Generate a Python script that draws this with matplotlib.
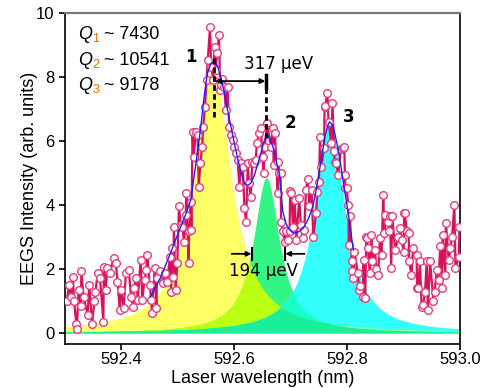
import numpy as np
import matplotlib
matplotlib.use("Agg")
import matplotlib.pyplot as plt

# ---------------- data ----------------
wavelength = [
    592.303, 592.307, 592.311, 592.314, 592.316, 592.320, 592.321, 592.324, 592.328, 592.329,
    592.333, 592.340, 592.343, 592.348, 592.352, 592.354, 592.358, 592.362, 592.368, 592.369,
    592.372, 592.375, 592.380, 592.386, 592.390, 592.393, 592.397, 592.399, 592.404, 592.408,
    592.413, 592.417, 592.421, 592.422, 592.426, 592.429, 592.434, 592.437, 592.441, 592.444,
    592.446, 592.450, 592.453, 592.454, 592.459, 592.462, 592.463, 592.468, 592.473, 592.478,
    592.481, 592.486, 592.488, 592.490, 592.492, 592.493, 592.496, 592.499, 592.502, 592.505,
    592.508, 592.511, 592.514, 592.515, 592.519, 592.520, 592.523, 592.524, 592.526, 592.528,
    592.532, 592.535, 592.537, 592.540, 592.543, 592.545, 592.548, 592.551, 592.553, 592.557,
    592.559, 592.563, 592.565, 592.567, 592.570, 592.573, 592.575, 592.577, 592.579, 592.582,
    592.585, 592.588, 592.591, 592.594, 592.597, 592.600, 592.603, 592.606, 592.609, 592.612,
    592.615, 592.618, 592.621, 592.624, 592.626, 592.629, 592.632, 592.635, 592.638, 592.640,
    592.644, 592.647, 592.650, 592.652, 592.654, 592.658, 592.665, 592.668, 592.670, 592.672,
    592.677, 592.678, 592.680, 592.682, 592.683, 592.686, 592.689, 592.692, 592.695, 592.698,
    592.699, 592.701, 592.704, 592.707, 592.710, 592.715, 592.718, 592.721, 592.724, 592.727,
    592.730, 592.733, 592.737, 592.740, 592.745, 592.747, 592.750, 592.752, 592.754, 592.759,
    592.760, 592.761, 592.765, 592.767, 592.772, 592.774, 592.777, 592.778, 592.781, 592.784,
    592.789, 592.793, 592.795, 592.796, 592.797, 592.799, 592.802, 592.803, 592.805, 592.808,
    592.809, 592.811, 592.813, 592.819, 592.821, 592.822, 592.828, 592.829, 592.832, 592.834,
    592.835, 592.837, 592.840, 592.843, 592.844, 592.849, 592.852, 592.855, 592.858, 592.861,
    592.864, 592.866, 592.867, 592.873, 592.874, 592.876, 592.878, 592.880, 592.885, 592.891,
    592.894, 592.897, 592.900, 592.901, 592.902, 592.906, 592.909, 592.910, 592.914, 592.917,
    592.923, 592.924, 592.926, 592.929, 592.932, 592.935, 592.938, 592.941, 592.943, 592.947,
    592.953, 592.955, 592.959, 592.962, 592.965, 592.968, 592.969, 592.974, 592.975, 592.980,
    592.983, 592.986, 592.990, 592.992, 592.998, 592.999,
]
intensity = [
    0.98, 1.48, 1.13, 1.75, 1.00, 0.28, 0.12, 1.34, 0.84, 1.92,
    1.12, 0.56, 1.48, 0.28, 0.98, 1.29, 1.87, 1.72, 0.35, 2.06,
    1.34, 2.03, 1.87, 2.34, 2.19, 1.60, 0.72, 1.34, 0.78, 1.87,
    1.97, 1.13, 0.82, 1.40, 1.72, 1.03, 2.28, 1.03, 1.66, 1.97,
    2.44, 1.50, 1.03, 0.63, 2.03, 0.78, 1.72, 1.92, 1.56, 1.87,
    1.60, 2.38, 1.29, 2.65, 1.76, 3.31, 1.34, 2.19, 3.95, 3.38,
    3.32, 2.85, 3.69, 4.37, 2.19, 3.17, 4.10, 3.22, 6.29, 5.51,
    6.29, 6.19, 4.57, 5.30, 5.82, 6.45, 7.07, 7.90, 8.53, 9.57,
    8.32, 7.90, 8.95, 8.22, 8.76, 9.31, 7.60, 7.76, 7.95, 7.70,
    6.97, 7.70, 6.45, 6.19, 6.03, 5.82, 5.61, 5.40, 4.57, 5.30,
    5.20, 3.90, 3.48, 5.30, 4.68, 4.26, 5.35, 5.30, 5.40, 5.93,
    6.24, 6.40, 5.51, 4.99, 5.82, 6.55, 5.82, 6.40, 5.25, 6.26,
    4.37, 5.35, 4.99, 5.01, 3.48, 3.17, 2.85, 3.17, 2.91, 3.17,
    4.42, 4.37, 3.32, 4.16, 2.91, 4.20, 3.38, 2.96, 3.22, 4.47,
    4.81, 3.95, 4.47, 3.00, 3.74, 4.39, 4.73, 6.11, 5.18, 5.77,
    7.07, 7.09, 7.49, 6.60, 5.93, 7.20, 5.67, 5.35, 5.30, 4.94,
    5.75, 5.77, 5.82, 4.94, 4.52, 4.52, 4.00, 2.75, 3.64, 2.23,
    1.92, 1.71, 2.54, 1.86, 1.34, 1.45, 1.13, 2.28, 1.08, 3.01,
    2.96, 2.65, 1.86, 3.06, 2.23, 2.60, 2.00, 1.81, 2.96, 2.44,
    4.31, 3.11, 3.69, 3.48, 3.17, 3.64, 2.02, 3.64, 2.59, 3.01,
    3.27, 2.91, 2.54, 3.76, 3.74, 3.17, 3.11, 2.23, 1.81, 2.65,
    2.44, 1.40, 1.40, 2.23, 0.82, 0.88, 1.29, 2.23, 0.72, 2.23,
    0.98, 1.29, 1.97, 1.66, 2.70, 1.40, 3.06, 1.81, 3.43, 2.28,
    2.65, 3.01, 4.00, 2.02, 2.38, 3.32,
]

# smoothed guide line (blue)
guide_wl = [592.451, 592.470, 592.487, 592.498, 592.508, 592.516, 592.523, 592.532, 592.540,
            592.546, 592.552, 592.558, 592.564, 592.570, 592.576, 592.582, 592.588, 592.594,
            592.600, 592.606, 592.612, 592.618, 592.624, 592.630, 592.636, 592.641, 592.647,
            592.652, 592.658, 592.664, 592.671, 592.676, 592.680, 592.686, 592.692, 592.698,
            592.704, 592.710, 592.716, 592.722, 592.728, 592.733, 592.739, 592.744, 592.748,
            592.754, 592.760, 592.765, 592.769, 592.774, 592.778, 592.784, 592.790, 592.796,
            592.802, 592.807, 592.811]
guide_int = [1.13, 1.75, 2.50, 3.00, 3.44, 3.80, 4.16, 5.30, 6.34,
             7.30, 8.10, 8.40, 8.48, 8.35, 8.00, 7.55, 6.97, 6.45,
             5.93, 5.45, 5.00, 4.68, 4.60, 4.70, 4.95, 5.25, 5.61,
             5.95, 6.19, 6.05, 5.67, 5.25, 4.99, 3.79, 3.40, 3.22,
             3.12, 3.12, 3.18, 3.27, 3.45, 3.64, 3.95, 4.35, 4.78,
             5.40, 6.08, 6.45, 6.60, 6.50, 6.24, 5.75, 5.09, 4.40,
             3.74, 3.10, 2.59]

# Lorentzian components
peak_centers = [592.562, 592.657, 592.769]
peak_heights = [8.2, 4.85, 6.6]
q_factors = [7430, 10541, 9178]
fill_colors = ['#ffff66', '#33f585', '#33ffff']

q_labels = ['7430', '10541', '9178']
peak_labels = ['1', '2', '3']

# ---------------- figure ----------------
fig = plt.figure(figsize=(4.81, 3.88), dpi=100)
ax = fig.add_axes([65/481, 44/388, 395/481, 331/388])

xs = np.linspace(592.3, 593.0, 1400)
comps = []
for c, h, q in zip(peak_centers, peak_heights, q_factors):
    g = c / q / 2.0
    comps.append(h * g**2 / ((xs - c)**2 + g**2))
L1, L2, L3 = comps

for comp, col in zip(comps, fill_colors):
    ax.fill_between(xs, 0, comp, color=col, lw=0, zorder=1)
ax.fill_between(xs, 0, np.minimum(L1, L3), color='#7fff9f', lw=0, zorder=1.1)
ax.fill_between(xs, 0, np.minimum(L1, L2), color='#bbff14', lw=0, zorder=1.2)
ax.fill_between(xs, 0, np.minimum(L2, L3), color='#1affc8', lw=0, zorder=1.3)
ax.fill_between(xs, 0, np.minimum(np.minimum(L1, L2), L3), color='#19ee98', lw=0, zorder=1.4)

ax.plot(wavelength, intensity, color='#d6125a', lw=1.6, marker='o', ms=5.5,
        mfc='white', mec='#e63c80', mew=1.0, zorder=3, clip_on=True)
ax.plot(guide_wl, guide_int, color='#2020ff', lw=1.0, zorder=4)

ax.set_xlim(592.3, 593.0)
ax.set_ylim(-0.35, 10)
ax.set_xticks([592.4, 592.6, 592.8, 593.0])
ax.set_xticklabels(['592.4', '592.6', '592.8', '593.0'])
ax.set_yticks([0, 2, 4, 6, 8, 10])
ax.tick_params(direction='out', length=4, width=1.2, labelsize=12, top=False, right=False)
ax.tick_params(axis='x', pad=2)
for lab in ax.get_xticklabels() + ax.get_yticklabels():
    lab.set_family('Liberation Sans')
ax.spines['top'].set_color('#777777')
ax.spines['top'].set_linewidth(1.6)
ax.spines['right'].set_color('black')
for s in ['left', 'bottom', 'right']:
    ax.spines[s].set_linewidth(1.2)

ax.set_xlabel('Laser wavelength (nm)', family='Liberation Sans', fontsize=13)
ax.set_ylabel('EEGS Intensity (arb. units)', family='Liberation Sans', fontsize=13)
ax.xaxis.set_label_coords(0.5, -0.078)
ax.yaxis.set_label_coords(-0.068, 0.5)

# Q annotations
for i, (ql, yoff) in enumerate(zip(q_labels, [0.935, 0.858, 0.782])):
    ax.annotate('Q', xy=(0.033, yoff), xycoords='axes fraction', fontsize=13,
                family='Liberation Sans', style='italic', va='center', ha='left')
    ax.annotate(str(i + 1), xy=(0.033, yoff), xycoords='axes fraction',
                xytext=(10.3, -3.5), textcoords='offset points', fontsize=9,
                family='Liberation Sans', color='#e07000', va='center', ha='left')
    ax.annotate(' ~ ' + ql, xy=(0.033, yoff), xycoords='axes fraction',
                xytext=(15.0, 0), textcoords='offset points', fontsize=13,
                family='Liberation Sans', va='center', ha='left')

# peak number labels
for lab, (lx, ly) in zip(peak_labels, [(592.523, 8.62), (592.699, 6.55), (592.802, 6.75)]):
    ax.text(lx, ly, lab, fontsize=12, fontweight='bold', ha='center', va='center',
            family='DejaVu Sans', zorder=6)

# splitting 317 µeV
ax.plot([peak_centers[0] + 0.002] * 2, [6.75, 8.67], color='black', lw=2, ls=(0, (2, 1.2)), zorder=5)
ax.plot([peak_centers[1] - 0.001] * 2, [6.1, 7.98], color='black', lw=2, ls=(0, (2, 1.2)), zorder=5)
ax.plot([peak_centers[1] - 0.001] * 2, [7.65, 8.05], color='black', lw=2.5, zorder=5)
ax.annotate('', xy=(592.566, 7.87), xytext=(592.655, 7.87),
            arrowprops=dict(arrowstyle='<|-|>', color='black', lw=1.3,
                            mutation_scale=7, shrinkA=0, shrinkB=0), zorder=5)
ax.text(592.678, 8.42, '317 \u03bceV', fontsize=12, ha='center', va='center',
        family='DejaVu Sans', zorder=6)

# linewidth 194 µeV
ax.annotate('', xy=(592.6305, 2.47), xytext=(592.5955, 2.47),
            arrowprops=dict(arrowstyle='-|>', color='black', lw=1.3,
                            mutation_scale=7, shrinkA=0, shrinkB=0), zorder=5)
ax.plot([592.6315] * 2, [2.28, 2.66], color='black', lw=1.5, zorder=5)
ax.annotate('', xy=(592.6905, 2.47), xytext=(592.7245, 2.47),
            arrowprops=dict(arrowstyle='-|>', color='black', lw=1.3,
                            mutation_scale=7, shrinkA=0, shrinkB=0), zorder=5)
ax.plot([592.6895] * 2, [2.28, 2.66], color='black', lw=1.5, zorder=5)
ax.text(592.652, 1.92, '194 \u03bceV', fontsize=12, ha='center', va='center',
        family='DejaVu Sans', zorder=6)

fig.savefig('out.png', dpi=100)
